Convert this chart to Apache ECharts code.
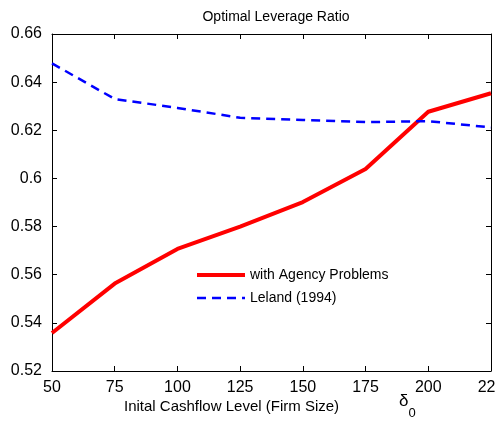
<!DOCTYPE html>
<html>
<head>
<meta charset="utf-8">
<script src="https://cdn.jsdelivr.net/npm/echarts@6/dist/echarts.min.js"></script>
<style>
  html, body { margin: 0; padding: 0; background: #fff; }
  #chart { width: 496px; height: 424px; }
</style>
</head>
<body>
<div id="chart"></div>
<script>
  // x ticks / categories (initial cashflow level)
  const cashflow = [50, 75, 100, 125, 150, 175, 200, 225];
  // with agency problems
  const agency = [0.5358, 0.5563, 0.5707, 0.5800, 0.5902, 0.6039, 0.6277, 0.6354];
  // Leland (1994)
  const leland = [0.6478, 0.6330, 0.6293, 0.6252, 0.6243, 0.6234, 0.6238, 0.6212];

  const font = 'Liberation Sans';
  const chart = echarts.init(document.getElementById('chart'));

  const pairs = (ys) => cashflow.map((x, i) => [x, ys[i]]);

  const xBase = {
    type: 'value', min: 50, max: 225, interval: 25,
    axisLine: { lineStyle: { color: '#000', width: 1 } },
    axisTick: { inside: true, length: 5, lineStyle: { color: '#000' } },
    splitLine: { show: false }
  };
  const yBase = {
    type: 'value', min: 0.52, max: 0.66, interval: 0.02,
    axisLine: { show: true, lineStyle: { color: '#000', width: 1 } },
    axisTick: { show: true, inside: true, length: 5, lineStyle: { color: '#000' } },
    splitLine: { show: false }
  };

  chart.setOption({
    animation: false,
    title: {
      text: 'Optimal Leverage Ratio',
      left: 271, top: 5, textAlign: 'center',
      textStyle: { fontFamily: font, fontSize: 14, fontWeight: 'normal', color: '#000' }
    },
    grid: { left: 52, right: 5, top: 34, bottom: 53, containLabel: false, outerBoundsMode: 'none' },
    legend: {
      left: 190, top: 263, orient: 'vertical',
      itemWidth: 48, itemHeight: 12, itemGap: 9,
      itemStyle: { opacity: 0 },
      lineStyle: { width: 'inherit' },
      textStyle: { fontFamily: font, fontSize: 14, color: '#000' },
      data: ['with Agency Problems', 'Leland (1994)']
    },
    xAxis: [
      Object.assign({}, xBase, {
        position: 'bottom',
        axisLabel: { color: '#000', fontFamily: font, fontSize: 16, margin: 9 }
      }),
      Object.assign({}, xBase, { position: 'top', axisLabel: { show: false } })
    ],
    yAxis: [
      Object.assign({}, yBase, {
        position: 'left',
        axisLabel: {
          color: '#000', fontFamily: font, fontSize: 16, margin: 10,
          formatter: (v) => String(+v.toFixed(2))
        }
      }),
      Object.assign({}, yBase, { position: 'right', axisLabel: { show: false } })
    ],
    series: [
      {
        name: 'with Agency Problems', type: 'line', symbol: 'none',
        data: pairs(agency),
        lineStyle: { color: '#ff0000', width: 4 },
        itemStyle: { color: '#ff0000' }
      },
      {
        name: 'Leland (1994)', type: 'line', symbol: 'none',
        data: pairs(leland),
        lineStyle: { color: '#0000ff', width: 2.5, type: [9, 6] },
        itemStyle: { color: '#0000ff' }
      }
    ],
    graphic: [
      {
        type: 'text', left: 124, top: 399,
        style: { text: 'Inital Cashflow Level (Firm Size)', fontFamily: font, fontSize: 15, fill: '#000' }
      },
      {
        type: 'text', left: 399, top: 393,
        style: {
          text: '{d|δ}{s|0}', fill: '#000',
          rich: {
            d: { fontFamily: font, fontSize: 17, verticalAlign: 'top' },
            s: { fontFamily: font, fontSize: 13, padding: [14, 0, 0, 0] }
          }
        }
      }
    ]
  });
</script>
</body>
</html>
